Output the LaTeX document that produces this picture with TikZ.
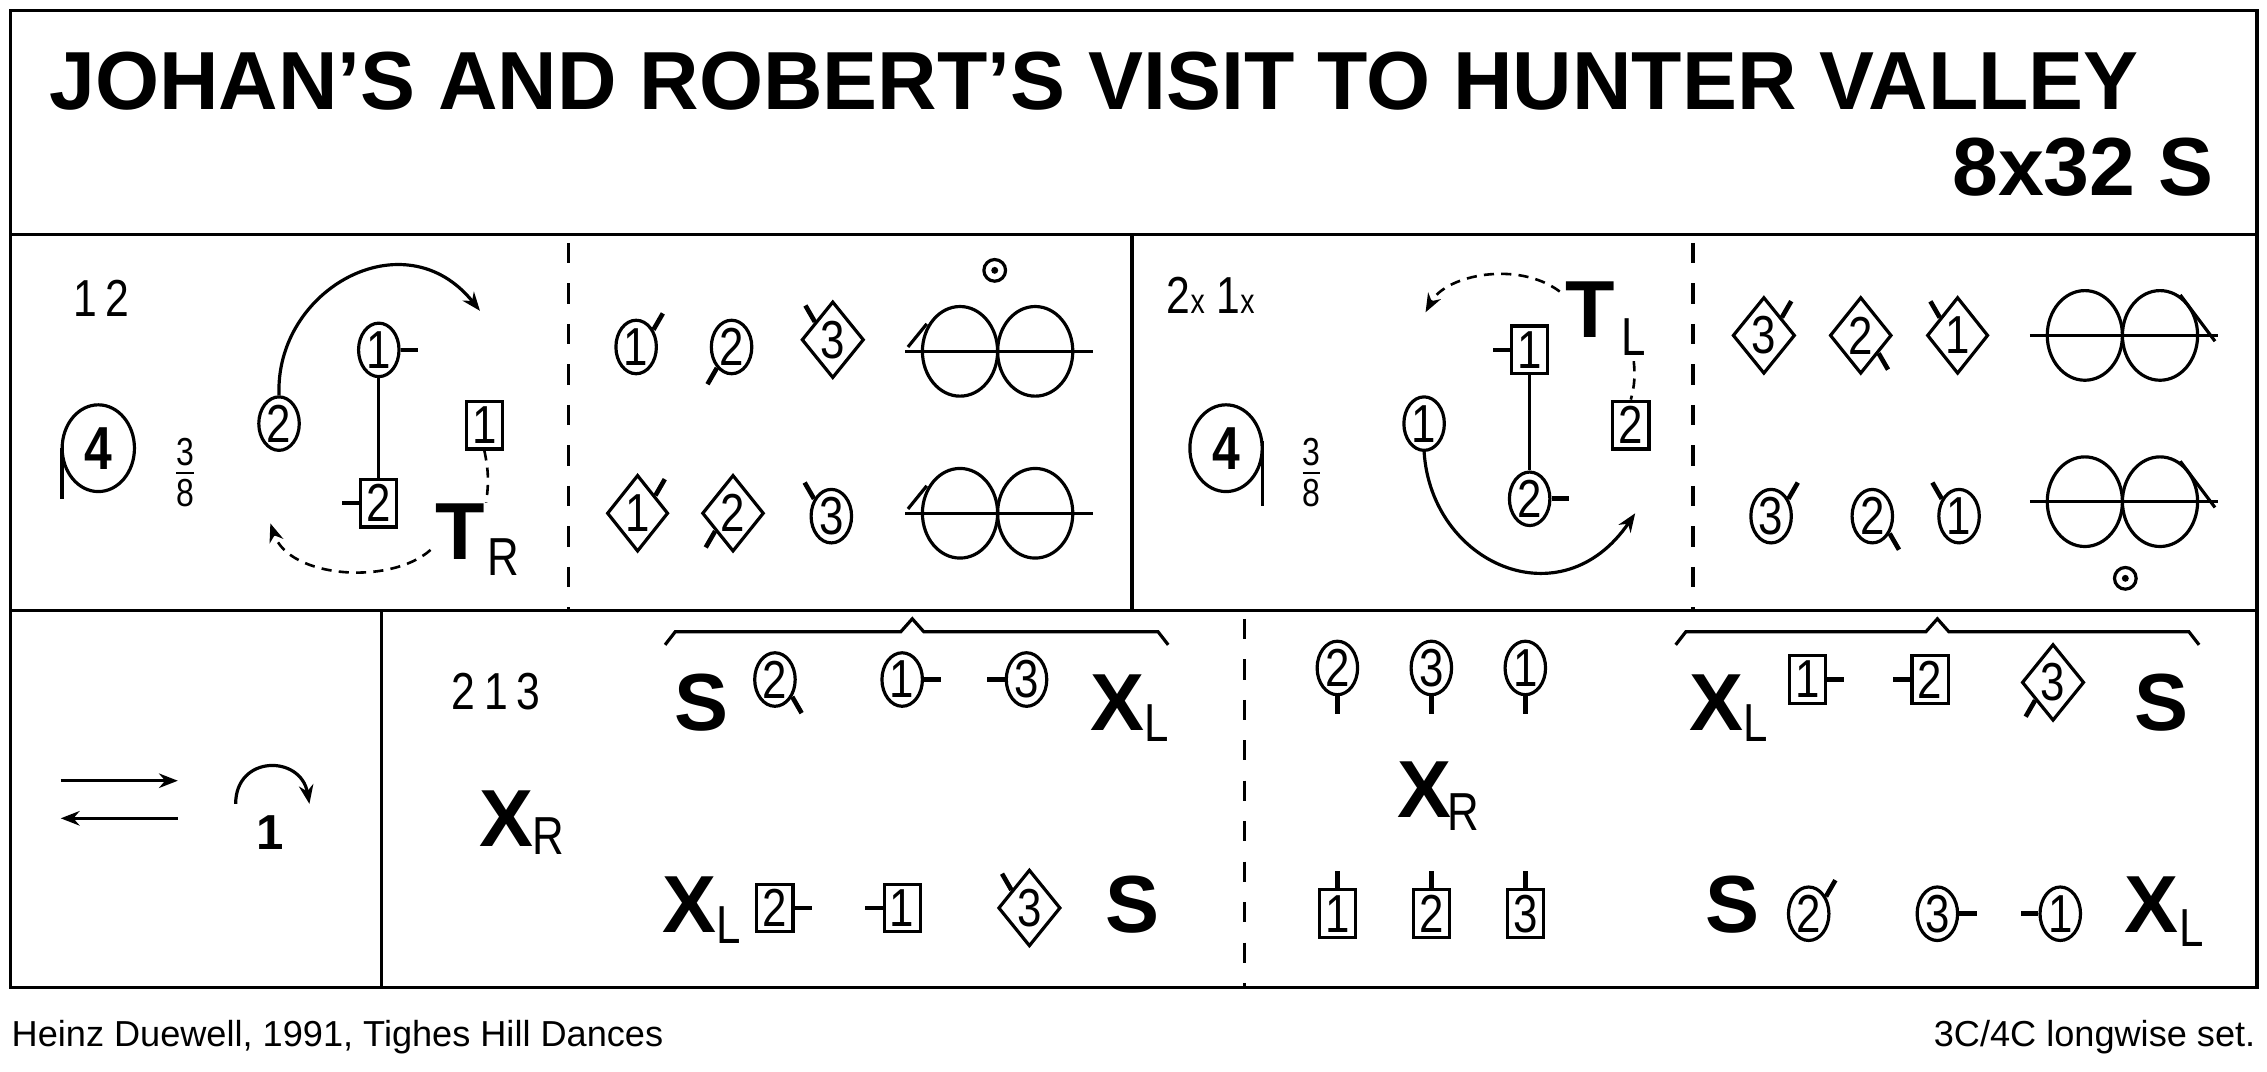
\documentclass[tikz,border=0pt]{standalone}
\usepackage{fontspec}
\setmainfont{Liberation Sans}
\newfontfamily\narrowf[FakeStretch=0.82]{Liberation Sans}
\usetikzlibrary{shapes.geometric,arrows.meta}
\tikzset{
 every picture/.style={line width=2.2pt},
 dc/.style={draw,ellipse,minimum width=28pt,minimum height=37pt,inner sep=0pt,font=\narrowf\fontsize{37}{37}\selectfont},
 db/.style={draw,rectangle,minimum width=25pt,minimum height=33pt,inner sep=0pt,font=\narrowf\fontsize{37}{37}\selectfont},
 dd/.style={draw,diamond,minimum width=37pt,minimum height=53pt,inner sep=0pt,font=\narrowf\fontsize{37}{37}\selectfont},
 big/.style={font=\bfseries\fontsize{56}{56}\selectfont,inner sep=0pt},
 sub/.style={font=\narrowf\fontsize{37}{37}\selectfont,inner sep=0pt},
 lbl/.style={font=\narrowf\fontsize{36}{36}\selectfont,inner sep=0pt},
 frac/.style={font=\narrowf\fontsize{27}{27}\selectfont,inner sep=0pt},
 tick/.style={line width=3.2pt},
 dsh/.style={dash pattern=on 7pt off 5pt,line width=1.8pt},
 arr/.style={-{Stealth[length=13pt,width=10pt]}},
}
\newcommand{\tk}[2]{\draw[tick] (#1.#2) -- ++(#2:12pt);}
\newcommand{\ta}[3]{\draw[tick] (#1.#2) -- ++(#3:13pt);}
\newcommand{\eight}[3]{% x y name
 \node[draw,ellipse,minimum width=52pt,minimum height=62pt,inner sep=0pt] (#3a) at (#1-26,#2) {};
 \node[draw,ellipse,minimum width=52pt,minimum height=62pt,inner sep=0pt] (#3b) at (#1+26,#2) {};
 \draw (#1-64,#2) -- (#1+66,#2);}
\newcommand{\frc}[3]{% x y name
 \node[frac] (#3t) at (#1,#2-13) {3};
 \node[frac] (#3b) at (#1,#2+15) {8};
 \draw[line width=1.5pt] (#1-6,#2+1) -- (#1+6,#2+1);}
\begin{document}
\begin{tikzpicture}[x=1pt,y=-1pt]
\useasboundingbox (0,0) rectangle (1568,741);
\draw (7,7) rectangle (1561,683);
\draw (7,162) -- (1561,162);
\draw (7,422) -- (1561,422);
\draw (783,162) -- (783,422);
\draw (264,422) -- (264,683);
\draw[dash pattern=on 14pt off 14pt] (393,168) -- (393,422);
\draw[dash pattern=on 14pt off 14pt] (1171,168) -- (1171,422);
\draw[dash pattern=on 14pt off 14pt] (861,428) -- (861,683);
\node[anchor=base west,inner sep=0pt,font=\bfseries\fontsize{57}{57}\selectfont] (title) at (33,76) {JOHAN’S AND ROBERT’S VISIT TO HUNTER VALLEY};
\node[anchor=base east,inner sep=0pt,font=\bfseries\fontsize{57}{57}\selectfont] (form) at (1532,135) {8x32 S};
\node[anchor=base west,inner sep=0pt,font=\fontsize{25}{25}\selectfont] (auth) at (7,724) {Heinz Duewell, 1991, Tighes Hill Dances};
\node[anchor=base east,inner sep=0pt,font=\fontsize{25}{25}\selectfont] (set) at (1561,724) {3C/4C longwise set.};
% ---------- Panel 1
\node[lbl] (p1) at (70,206) {1\,2};
\node[draw,ellipse,minimum width=50pt,minimum height=60pt,inner sep=0pt,font=\bfseries\narrowf\fontsize{42}{42}\selectfont] (f1) at (68,310) {4};
\draw (f1.west) ++(1,0) -- ++(0,35);
\frc{128}{326}{fr1}
\node[dc] (a2) at (193,293) {2};
\node[dc] (a1) at (262,242) {1}; \tk{a1}{0}
\node[db] (b2) at (262,348) {2}; \tk{b2}{180}
\draw (a1) -- (b2);
\node[db] (b1) at (335,294) {1};
\node[big] (T1) at (318,368) {T};
\node[sub] (R1) at (348,385) {R};
\draw[dsh] (b1.south) to[bend left=10] (T1.north east);
\draw[arr] (a2.north) .. controls (190,200) and (280,150) .. (332,215);
\draw[arr,dsh] (T1.south west) ++(-2,-8) .. controls (270,405) and (200,400) .. (187,362);
% ---------- Panel 2
\node[dc] (c1) at (440,240) {1}; \ta{c1}{45}{60}
\node[dc] (c2) at (506,240) {2}; \ta{c2}{235}{240}
\node[dd] (c3) at (576,235) {3}; \ta{c3}{135}{120}
\eight{690}{243}{e1}
\draw (628,240) -- (641,224);
\node[draw,circle,minimum size=15pt,inner sep=0pt] (dot1) at (688,187) {}; \fill (dot1) circle (2.4pt);
\node[dd] (c4) at (441,355) {1}; \ta{c4}{45}{60}
\node[dd] (c5) at (507,355) {2}; \ta{c5}{225}{240}
\node[dc] (c6) at (575,357) {3}; \ta{c6}{135}{120}
\eight{690}{355}{e2}
\draw (628,352) -- (641,336);
% ---------- Panel 3
\node[lbl,anchor=base west] (p3) at (806,217) {2{\fontsize{24}{24}\selectfont x} 1{\fontsize{24}{24}\selectfont x}};
\node[draw,ellipse,minimum width=50pt,minimum height=60pt,inner sep=0pt,font=\bfseries\narrowf\fontsize{42}{42}\selectfont] (f2) at (848,310) {4};
\draw (f2.east) ++(-1,-5) -- ++(0,45);
\frc{907}{326}{fr2}
\node[db] (g1) at (1058,242) {1}; \tk{g1}{180}
\node[dc] (h2) at (1058,345) {2}; \tk{h2}{0}
\draw (g1) -- (h2);
\node[dc] (h1) at (985,293) {1};
\node[db] (g2) at (1128,294) {2};
\node[big] (T2) at (1100,214) {T};
\node[sub] (L2) at (1130,233) {L};
\draw[dsh] (L2.south) ++(0,3) to[bend left=10] (g2.north);
\draw[arr,dsh] (T2.north west) ++(-3,8) .. controls (1050,180) and (1000,190) .. (986,216);
\draw[arr] (h1.south) .. controls (990,390) and (1080,430) .. (1131,355);
% ---------- Panel 4
\node[dd] (k3) at (1220,232) {3}; \ta{k3}{45}{60}
\node[dd] (k2) at (1287,232) {2}; \ta{k2}{-45}{-60}
\node[dd] (k1) at (1354,232) {1}; \ta{k1}{135}{120}
\eight{1468}{232}{e3}
\draw (1508,204) -- (1532,236);
\node[dc] (m3) at (1225,357) {3}; \ta{m3}{45}{60}
\node[dc] (m2) at (1295,357) {2}; \ta{m2}{-45}{-60}
\node[dc] (m1) at (1355,357) {1}; \ta{m1}{135}{120}
\eight{1468}{347}{e4}
\draw (1508,319) -- (1532,351);
\node[draw,circle,minimum size=15pt,inner sep=0pt] (dot2) at (1470,400) {}; \fill (dot2) circle (2.4pt);
% ---------- Row 3 panel A
\draw[arr] (42,540) -- (123,540);
\draw[arr] (123,566) -- (42,566);
\node[font=\bfseries\fontsize{34}{34}\selectfont,inner sep=0pt] (one) at (187,576) {1};
\draw[arr] (163,556) .. controls (163,522) and (208,522) .. (214,556);
% ---------- Panel B
\node[lbl] (o1) at (343,478) {2\,1\,3};
\node[big] (xr1) at (350,566) {X}; \node[sub] (xr1s) at (379,578) {R};
\draw (460,446) -- (467,437) -- (623,437) -- (631,428) -- (639,437) -- (801,437) -- (808,446);
\node[big] (s1) at (485,486) {S};
\node[dc] (q2) at (536,470) {2}; \ta{q2}{-45}{-60}
\node[dc] (q1) at (624,470) {1}; \tk{q1}{0}
\node[dc] (q3) at (710,470) {3}; \tk{q3}{180}
\node[big] (x1) at (773,486) {X}; \node[sub] (x1s) at (800,500) {L};
\node[big] (x2) at (477,626) {X}; \node[sub] (x2s) at (504,640) {L};
\node[db] (r2) at (536,628) {2}; \tk{r2}{0}
\node[db] (r1) at (624,628) {1}; \tk{r1}{180}
\node[dd] (r3) at (712,628) {3}; \ta{r3}{135}{120}
\node[big] (s2) at (783,626) {S};
% ---------- Panel C
\node[dc] (u2) at (925,462) {2}; \tk{u2}{-90}
\node[dc] (u3) at (990,462) {3}; \tk{u3}{-90}
\node[dc] (u1) at (1055,462) {1}; \tk{u1}{-90}
\node[big] (xr2) at (985,546) {X}; \node[sub] (xr2s) at (1012,562) {R};
\node[db] (v1) at (925,632) {1}; \tk{v1}{90}
\node[db] (v2) at (990,632) {2}; \tk{v2}{90}
\node[db] (v3) at (1055,632) {3}; \tk{v3}{90}
\draw (1159,446) -- (1166,437) -- (1332,437) -- (1340,428) -- (1348,437) -- (1514,437) -- (1521,446);
\node[big] (x3) at (1187,486) {X}; \node[sub] (x3s) at (1214,500) {L};
\node[db] (w1) at (1250,470) {1}; \tk{w1}{0}
\node[db] (w2) at (1335,470) {2}; \tk{w2}{180}
\node[dd] (w3) at (1420,472) {3}; \ta{w3}{225}{240}
\node[big] (s3) at (1495,486) {S};
\node[big] (s4) at (1198,626) {S};
\node[dc] (z2) at (1251,632) {2}; \ta{z2}{45}{60}
\node[dc] (z3) at (1340,632) {3}; \tk{z3}{0}
\node[dc] (z1) at (1425,632) {1}; \tk{z1}{180}
\node[big] (x4) at (1488,626) {X}; \node[sub] (x4s) at (1516,642) {L};
\end{tikzpicture}
\end{document}
